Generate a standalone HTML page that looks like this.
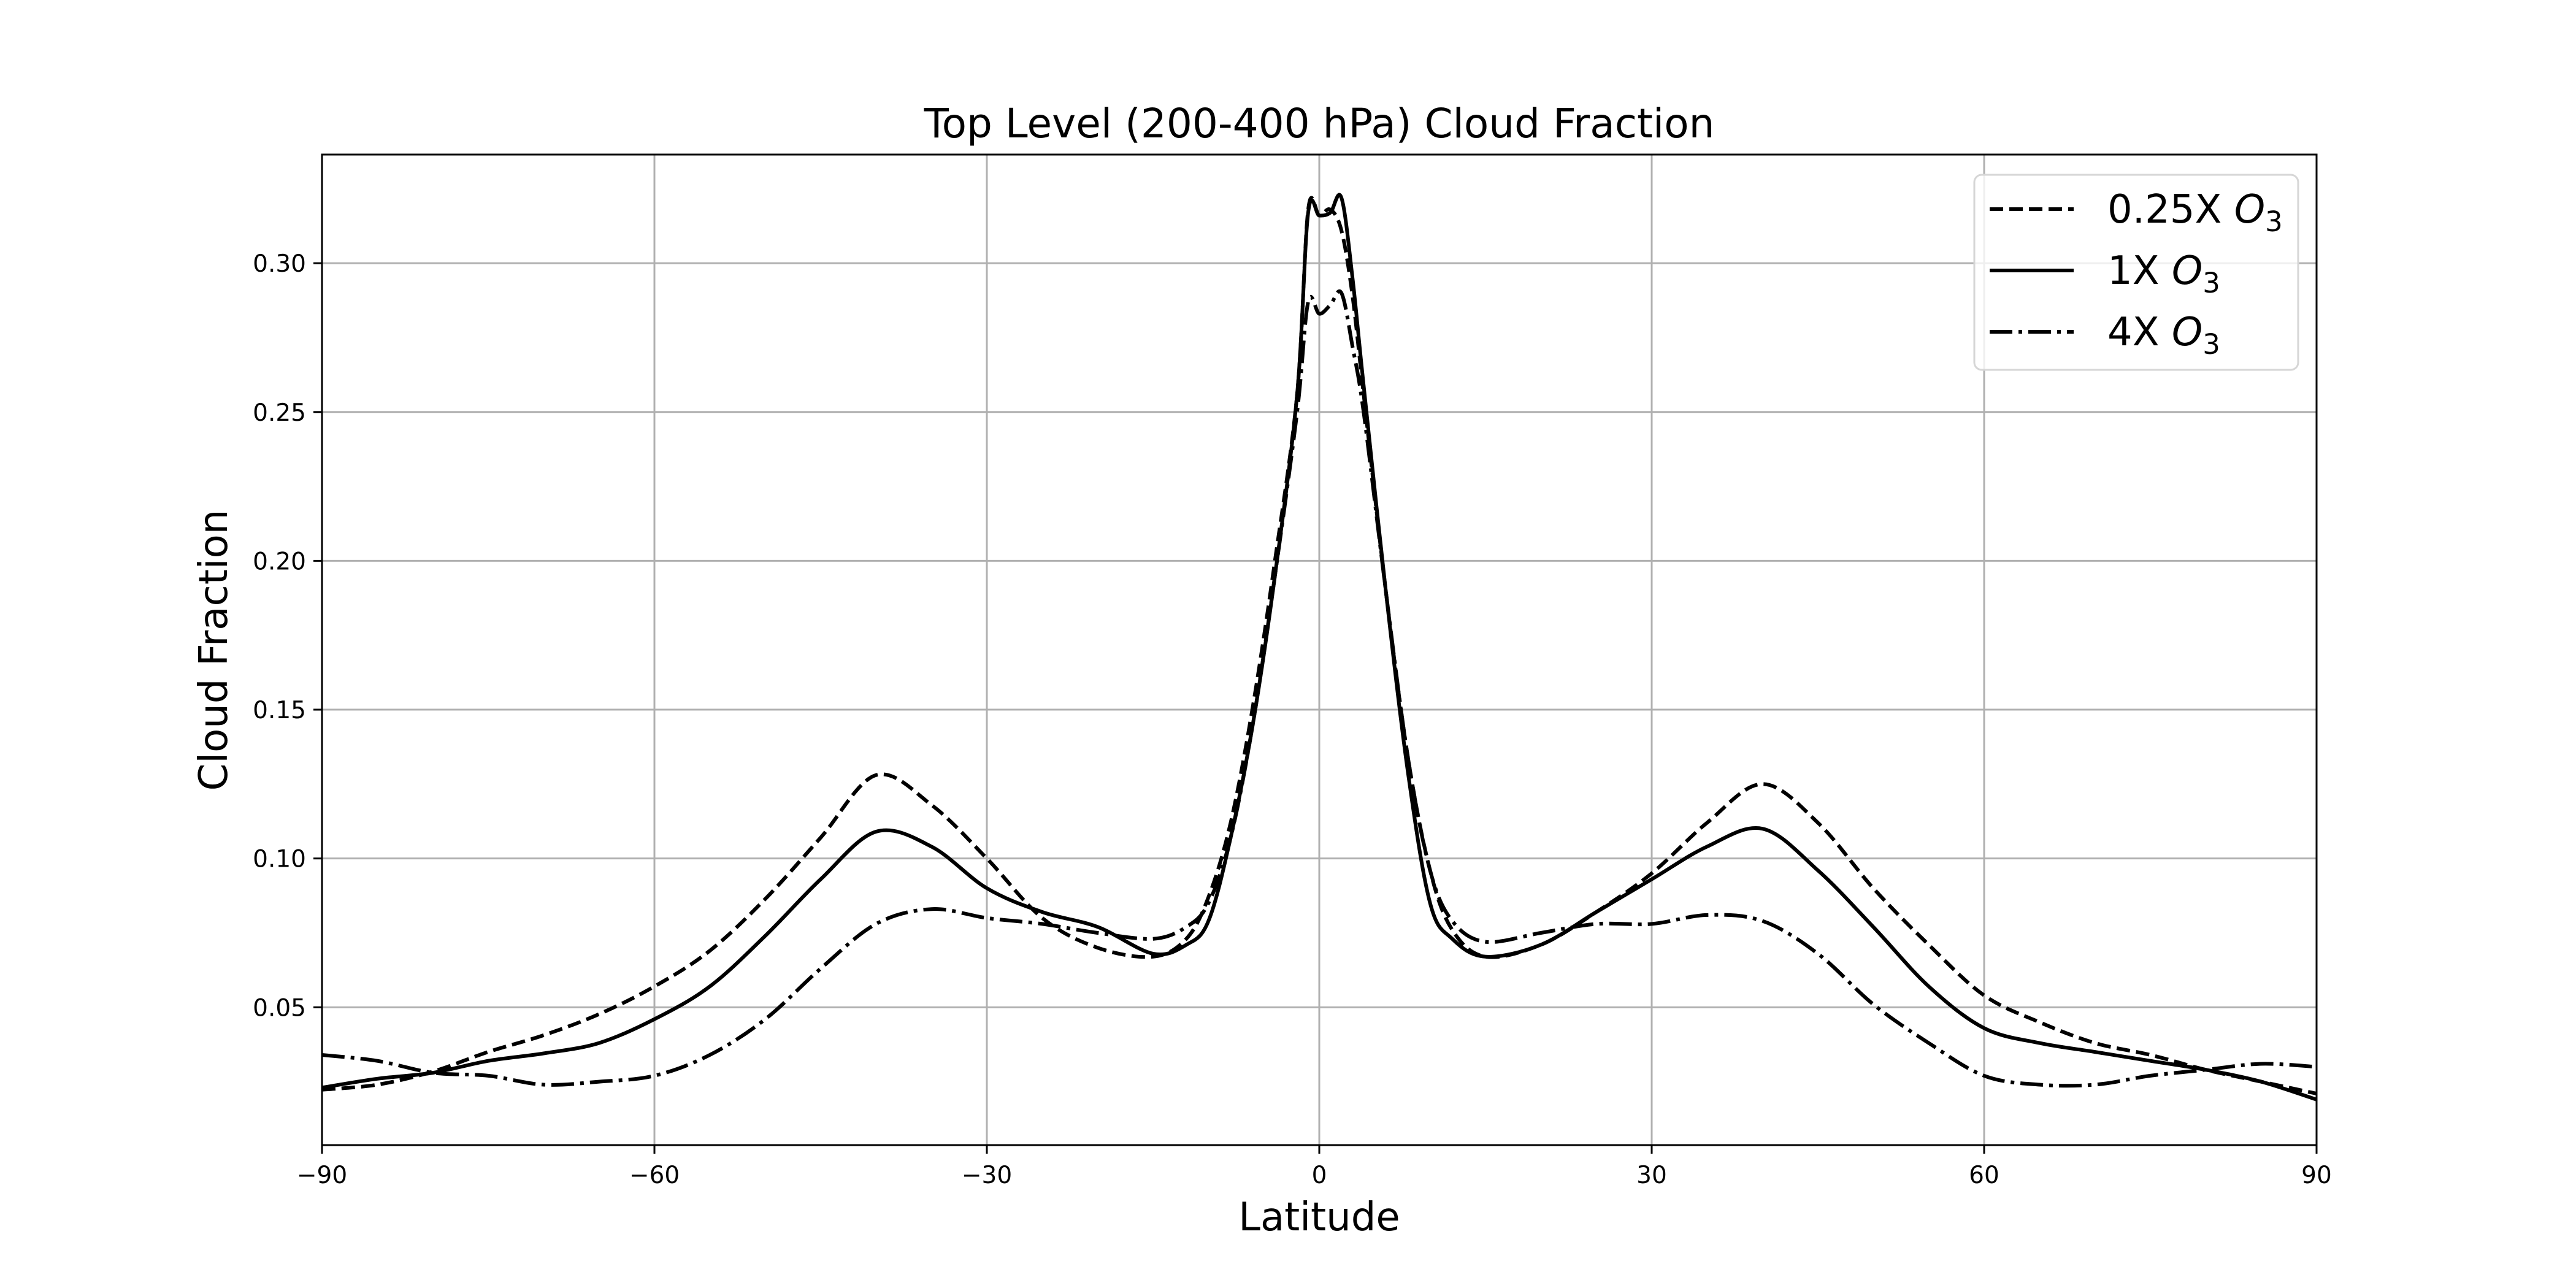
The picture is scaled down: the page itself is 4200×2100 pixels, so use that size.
<!DOCTYPE html>
<html><head><meta charset="utf-8"><style>
html,body{margin:0;padding:0;background:#fff;}
svg{display:block;font-family:"DejaVu Sans","Liberation Sans",sans-serif;}
</style></head><body>
<svg id="chart" width="4200" height="2100" viewBox="0 0 4200 2100" xmlns="http://www.w3.org/2000/svg">
<rect width="4200" height="2100" fill="#fff"/>
<g id="grid"></g>
<g id="series"></g>
<rect x="525" y="252" width="3252" height="1615" fill="none" stroke="#000" stroke-width="3"/>
<g id="ticks"></g>
<text x="2151" y="224" font-size="66" text-anchor="middle">Top Level (200-400 hPa) Cloud Fraction</text>
<text x="2151" y="2006" font-size="64" text-anchor="middle">Latitude</text>
<text transform="translate(370,1060) rotate(-90)" font-size="64" text-anchor="middle">Cloud Fraction</text>
<g>
<rect x="3219" y="285" width="528" height="318" rx="12" fill="#fff" fill-opacity="0.8" stroke="#d6d6d6" stroke-width="3"/>
<g>
<line x1="3244" y1="341" x2="3381" y2="341" stroke="#000" stroke-width="6" stroke-dasharray="22,10"/>
<text x="3436" y="363" font-size="64">0.25X <tspan font-style="italic">O</tspan><tspan font-size="45" dy="14">3</tspan></text></g>
<g>
<line x1="3244" y1="441" x2="3381" y2="441" stroke="#000" stroke-width="6"/>
<text x="3436" y="463" font-size="64">1X <tspan font-style="italic">O</tspan><tspan font-size="45" dy="14">3</tspan></text></g>
<g>
<line x1="3244" y1="541" x2="3381" y2="541" stroke="#000" stroke-width="6" stroke-dasharray="37,10,6,10"/>
<text x="3436" y="563" font-size="64">4X <tspan font-style="italic">O</tspan><tspan font-size="45" dy="14">3</tspan></text></g>
</g>
</svg>
<script>
const lats=[-90,-85,-80,-75,-70,-65,-60,-55,-50,-45,-40,-35,-30,-25,-20,-15,-12,-10,-8,-6,-4,-2,-1,0,1,2,3,4,6,8,10,12,15,20,25,30,35,40,45,50,55,60,65,70,75,80,85,90];
const quarterX=[.0223,.024,.0284,.035,.0406,.0477,.057,.069,.0864,.107,.128,.118,.100,.080,.070,.067,.073,.087,.112,.151,.2,.256,.318,.316,.318,.311,.289,.256,.19,.134,.096,.076,.067,.071,.082,.095,.112,.125,.112,.09,.071,.054,.045,.038,.034,.029,.025,.021];
const oneX=[.023,.026,.028,.032,.0345,.038,.046,.057,.074,.093,.109,.104,.090,.082,.077,.068,.071,.079,.107,.145,.195,.256,.317,.316,.317,.322,.295,.259,.19,.129,.085,.073,.067,.071,.082,.093,.104,.11,.096,.077,.057,.043,.038,.035,.032,.029,.025,.019];
const fourX=[.034,.032,.028,.027,.024,.025,.027,.034,.046,.063,.078,.083,.080,.078,.075,.073,.077,.085,.107,.145,.195,.25,.287,.283,.286,.29,.272,.25,.19,.134,.096,.079,.072,.075,.078,.078,.081,.079,.068,.051,.038,.027,.024,.024,.027,.029,.031,.030];
const xTicks=[-90,-60,-30,0,30,60,90];
const yTicks=[0.05,0.10,0.15,0.20,0.25,0.30];
const NS='http://www.w3.org/2000/svg';
const X0=525,X1=3777,Y0=1867,Y1=252,XMIN=-90,XMAX=90,YMIN=0.0037,YMAX=0.3365;
function sx(v){return X0+(v-XMIN)/(XMAX-XMIN)*(X1-X0);}
function sy(v){return Y0-(v-YMIN)/(YMAX-YMIN)*(Y0-Y1);}
function mk(tag,attrs,parent){const e=document.createElementNS(NS,tag);for(const k in attrs)e.setAttribute(k,attrs[k]);parent.appendChild(e);return e;}
const grid=document.getElementById('grid'),ticks=document.getElementById('ticks'),series=document.getElementById('series');
xTicks.forEach(t=>{
  const x=sx(t);
  const g=mk('line',{x1:x,x2:x,y1:Y1,y2:Y0,stroke:'#b0b0b0','stroke-width':3},grid);
  
  
  mk('line',{x1:x,x2:x,y1:Y0,y2:Y0+14,stroke:'#000','stroke-width':3},ticks);
  const tx=mk('text',{x:x,y:Y0+62,'font-size':39,'text-anchor':'middle'},ticks);
  tx.textContent=(t<0?'\u2212'+(-t):String(t));
  
  
});
yTicks.forEach(t=>{
  const y=sy(t);
  const g=mk('line',{x1:X0,x2:X1,y1:y,y2:y,stroke:'#b0b0b0','stroke-width':3},grid);
  
  
  mk('line',{x1:X0-14,x2:X0,y1:y,y2:y,stroke:'#000','stroke-width':3},ticks);
  const tx=mk('text',{x:X0-26,y:y+14,'font-size':39,'text-anchor':'end'},ticks);
  tx.textContent=t.toFixed(2);
  
  
});
function draw(vals,dash,name){
  const P=lats.map((l,i)=>[sx(l),sy(vals[i])]);
  let d='M'+P[0][0].toFixed(1)+','+P[0][1].toFixed(1);
  for(let i=0;i<P.length-1;i++){
    const p0=P[Math.max(0,i-1)],p1=P[i],p2=P[i+1],p3=P[Math.min(P.length-1,i+2)];
    const c1=[p1[0]+(p2[0]-p0[0])/6,p1[1]+(p2[1]-p0[1])/6];
    const c2=[p2[0]-(p3[0]-p1[0])/6,p2[1]-(p3[1]-p1[1])/6];
    d+=' C'+c1[0].toFixed(1)+','+c1[1].toFixed(1)+' '+c2[0].toFixed(1)+','+c2[1].toFixed(1)+' '+p2[0].toFixed(1)+','+p2[1].toFixed(1);
  }
  const p=mk('path',{d:d,fill:'none',stroke:'#000','stroke-width':6,'stroke-linejoin':'round'},series);
  if(dash)p.setAttribute('stroke-dasharray',dash);
  
  
}
draw(quarterX,'22,10','line-025x-o3');
draw(oneX,null,'line-1x-o3');
draw(fourX,'37,10,6,10','line-4x-o3');
</script>
</body></html>
